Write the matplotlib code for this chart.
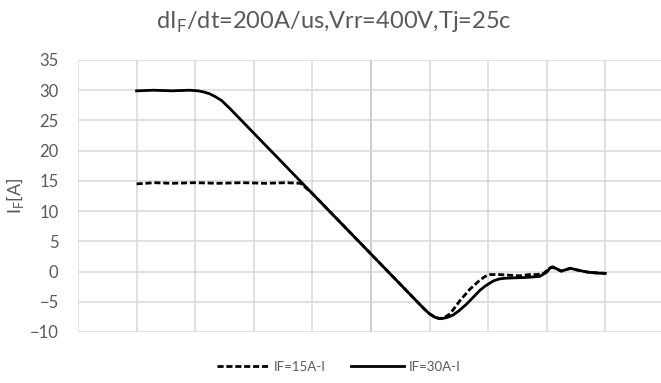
import matplotlib
matplotlib.use("Agg")
import matplotlib.pyplot as plt
import numpy as np

# ---- data (x in 50 ns units, y in A) ----
x_30 = [-4.0, -3.7, -3.4, -3.1, -2.95, -2.85, -2.75, -2.65, -2.55, -2.4, -2.0, -1.5,
        -1.0, -0.5, 0.0, 0.5, 0.9, 1.0, 1.1, 1.2, 1.3, 1.4, 1.5, 1.63, 1.75, 1.86,
        1.95, 2.03, 2.1, 2.2, 2.3, 2.42, 2.6, 2.75, 2.88, 2.95, 3.0, 3.05, 3.1, 3.17,
        3.25, 3.32, 3.4, 3.5, 3.6, 3.7, 3.85, 4.0]
y_30 = [29.9, 30.0, 29.9, 30.0, 29.9, 29.7, 29.4, 28.9, 28.3, 26.9, 22.9, 17.9,
        12.9, 7.9, 2.9, -2.1, -6.1, -7.0, -7.6, -7.8, -7.6, -7.2, -6.5, -5.4, -4.2, -3.1,
        -2.4, -1.9, -1.5, -1.2, -1.1, -1.05, -1.0, -0.9, -0.8, -0.4, -0.1, 0.5, 0.8, 0.45,
        0.05, 0.3, 0.55, 0.3, 0.1, -0.1, -0.25, -0.3]

x_15 = [-4.0, -3.7, -3.4, -3.0, -2.6, -2.2, -1.8, -1.45, -1.2, -1.0, -0.5, 0.0, 0.5,
        0.9, 1.0, 1.1, 1.18, 1.27, 1.35, 1.52, 1.69, 1.86, 1.95, 2.03, 2.2, 2.35, 2.54,
        2.7, 2.83, 2.95, 3.05, 3.1, 3.17, 3.25, 3.4, 3.5, 3.7, 4.0]
y_15 = [14.5, 14.7, 14.6, 14.7, 14.6, 14.7, 14.6, 14.7, 14.6, 12.9, 7.9, 2.9, -2.1,
        -6.1, -7.0, -7.6, -7.8, -7.5, -7.0, -4.8, -2.9, -1.4, -0.8, -0.5, -0.5, -0.6, -0.7,
        -0.5, -0.5, -0.3, 0.6, 0.7, 0.4, 0.1, 0.5, 0.3, -0.1, -0.3]

y_ticks = [-10, -5, 0, 5, 10, 15, 20, 25, 30, 35]
x_grid = [-5, -4, -3, -2, -1, 0, 1, 2, 3, 4, 5]
series_labels = ["IF=15A-I", "IF=30A-I"]

plt.rcParams['font.family'] = ['Lato', 'DejaVu Sans']
gray = '#595959'

fig = plt.figure(figsize=(6.61, 3.83), dpi=100)
ax = fig.add_axes([78/661, 51/383, 1 - 78/661, 272/383])

ax.set_xlim(-5, 4.95)
ax.set_ylim(-10, 35)
ax.set_yticks(y_ticks)
ax.set_xticks([])
for xv in x_grid:
    ax.axvline(xv, color='#bfbfbf' if xv == 0 else '#d9d9d9', lw=1.1, zorder=0)
for yv in y_ticks:
    ax.axhline(yv, color='#d9d9d9', lw=1.1, zorder=0)
for s in ax.spines.values():
    s.set_visible(False)
ax.tick_params(axis='y', length=0, pad=14, labelsize=12, labelcolor=gray)

ax.plot(x_15, y_15, color='black', lw=2.0, linestyle=(0, (2.2, 1.0)), label=series_labels[0], zorder=3)
ax.plot(x_30, y_30, color='black', lw=2.0, label=series_labels[1], zorder=3)

ax.set_ylabel(r'I$_\mathregular{F}$[A]', color=gray, fontsize=13, labelpad=3)
fig.text(0.505, 0.942, r'dI$_\mathregular{F}$/dt=200A/us,Vrr=400V,Tj=25c', ha='center', va='center',
         fontsize=17, color=gray)

leg = fig.legend(loc='center', bbox_to_anchor=(0.512, 0.042), ncol=2, frameon=False,
                 fontsize=9.5, handlelength=4.0, columnspacing=1.9, handletextpad=0.35)
for t in leg.get_texts():
    t.set_color(gray)

fig.savefig('out.png', dpi=100)
